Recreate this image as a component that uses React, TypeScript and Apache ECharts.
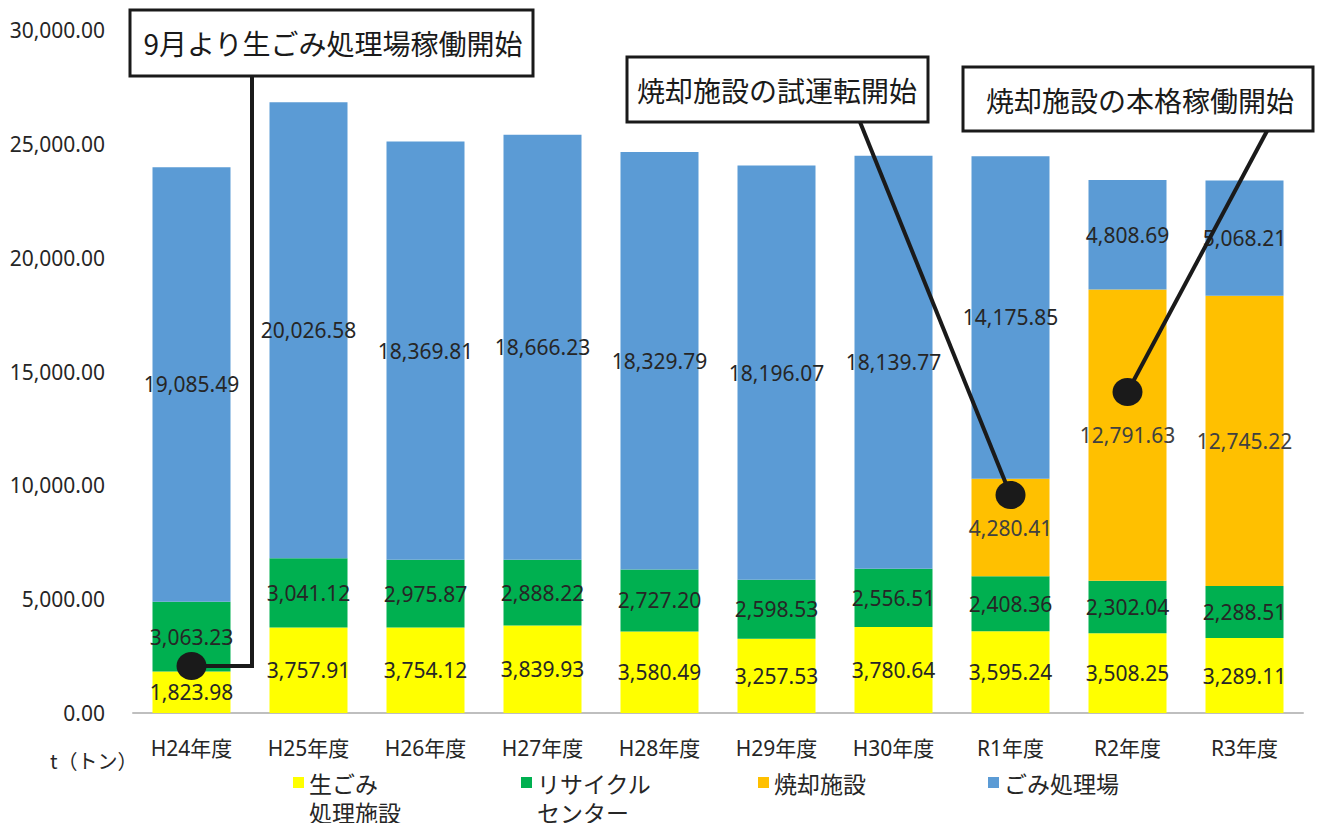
import React, { useEffect, useRef } from "react";
import * as echarts from "echarts";

const categories = ["H24年度", "H25年度", "H26年度", "H27年度", "H28年度", "H29年度", "H30年度", "R1年度", "R2年度", "R3年度"];
const seriesNames = ["生ごみ処理施設", "リサイクルセンター", "焼却施設", "ごみ処理場"];
const namagomi = [1823.98, 3757.91, 3754.12, 3839.93, 3580.49, 3257.53, 3780.64, 3595.24, 3508.25, 3289.11];
const recycle = [3063.23, 3041.12, 2975.87, 2888.22, 2727.2, 2598.53, 2556.51, 2408.36, 2302.04, 2288.51];
const shokyaku = [null, null, null, null, null, null, null, 4280.41, 12791.63, 12745.22];
const gomi = [19085.49, 20026.58, 18369.81, 18666.23, 18329.79, 18196.07, 18139.77, 14175.85, 4808.69, 5068.21];
const colors = ["#FFFF00", "#00B050", "#FFC000", "#5B9BD5"];
const yMin = 0;
const yMax = 30000;
const yInterval = 5000;

const FONT = "'Noto Sans', 'Noto Sans CJK JP', sans-serif";
const CJK = "'Noto Sans CJK JP', 'Noto Sans', sans-serif";

const fmt = (v: number) =>
  v.toLocaleString("en-US", { minimumFractionDigits: 2, maximumFractionDigits: 2 });

export default function App() {
  const ref = useRef<HTMLDivElement>(null);
  useEffect(() => {
    if (!ref.current) return;
    const chart = echarts.init(ref.current, undefined, { renderer: "svg" });
    const datasets = [namagomi, recycle, shokyaku, gomi];
    const tallIcon = "path://M0 0h11v11H0z M0 40h.01v.01H0z";
    const legendLefts = [293, 521, 758, 988];
    const legendLabels: Record<string, string> = {
      "生ごみ処理施設": "生ごみ\n処理施設",
      "リサイクルセンター": "リサイクル\nセンター",
      "焼却施設": "焼却施設",
      "ごみ処理場": "ごみ処理場",
    };
    const legends = seriesNames.map((n, i) => {
      const twoLine = i < 2;
      return {
        data: [{ name: n, icon: twoLine ? tallIcon : "rect" }],
        left: legendLefts[i],
        top: 768,
        padding: 0,
        itemWidth: 11,
        itemHeight: twoLine ? 40 : 11,
        itemGap: 0,
        selectedMode: false,
        formatter: (name: string) => legendLabels[name] || name,
        textStyle: { fontSize: 23, lineHeight: 29, color: "#262626", fontFamily: CJK, padding: [0, 0, 0, 0] },
      };
    });
    chart.setOption({
      animation: false,
      backgroundColor: "#ffffff",
      grid: { left: 133, top: 30, width: 1170, height: 683, containLabel: false },
      legend: legends,
      xAxis: {
        type: "category",
        data: categories,
        axisLine: { show: true, lineStyle: { color: "#BFBFBF", width: 2 } },
        axisTick: { show: false },
        axisLabel: { fontSize: 21, color: "#262626", fontFamily: FONT, margin: 24 },
      },
      yAxis: {
        type: "value",
        min: yMin,
        max: yMax,
        interval: yInterval,
        splitLine: { show: false },
        axisLine: { show: false },
        axisTick: { show: false },
        axisLabel: { fontSize: 21, color: "#262626", fontFamily: FONT, margin: 28, formatter: (v: number) => fmt(v) },
      },
      series: seriesNames.map((n, i) => ({
        name: n,
        type: "bar",
        stack: "total",
        barWidth: 78,
        data: datasets[i],
        itemStyle: { color: colors[i] },
        label: {
          show: true,
          position: "inside",
          fontSize: 21,
          fontFamily: FONT,
          color: i === 2 ? "#404040" : "#262626",
          formatter: (p: any) => (p.value == null ? "" : fmt(p.value)),
        },
      })),
    });

    const toPx = (cat: string, v: number) => chart.convertToPixel({ gridIndex: 0 }, [cat, v]) as number[];
    const d1 = toPx(categories[0], 2064);
    const d2 = toPx(categories[7], 9574);
    const d3 = toPx(categories[8], 14097);
    const lineStyle = { stroke: "#1a1a1a", lineWidth: 4, fill: "none" };
    const boxStyle = { fill: "#ffffff", stroke: "#1a1a1a", lineWidth: 3 };
    const textStyle = (x: number, y: number, t: string) => ({
      type: "text",
      z: 102,
      x,
      y,
      style: { text: t, fontSize: 28, fontFamily: CJK, fill: "#1a1a1a", align: "center", verticalAlign: "middle" },
    });
    const dot = (p: number[]) => ({
      type: "ellipse",
      z: 101,
      shape: { cx: p[0], cy: p[1], rx: 15, ry: 14 },
      style: { fill: "#1a1a1a" },
    });
    chart.setOption({
      graphic: [
        { type: "text", x: 50, y: 760, style: { text: "t（トン）", fontSize: 20, fontFamily: CJK, fill: "#262626", verticalAlign: "middle" } },
        { type: "polyline", z: 100, shape: { points: [[252, 76], [252, d1[1]], [d1[0], d1[1]]] }, style: lineStyle },
        { type: "line", z: 100, shape: { x1: 860, y1: 122, x2: d2[0], y2: d2[1] }, style: lineStyle },
        { type: "line", z: 100, shape: { x1: 1267, y1: 131, x2: d3[0], y2: d3[1] }, style: lineStyle },
        dot(d1),
        dot(d2),
        dot(d3),
        { type: "rect", z: 101, shape: { x: 130, y: 10, width: 403, height: 66 }, style: boxStyle },
        textStyle(333, 43, "9月より生ごみ処理場稼働開始"),
        { type: "rect", z: 101, shape: { x: 627, y: 57, width: 301, height: 65 }, style: boxStyle },
        textStyle(777, 90, "焼却施設の試運転開始"),
        { type: "rect", z: 101, shape: { x: 963, y: 67, width: 350, height: 64 }, style: boxStyle },
        textStyle(1140, 100, "焼却施設の本格稼働開始"),
      ],
    });
    return () => chart.dispose();
  }, []);
  return <div ref={ref} style={{ position: "fixed", left: 0, top: 0, width: 1319, height: 823 }} />;
}
